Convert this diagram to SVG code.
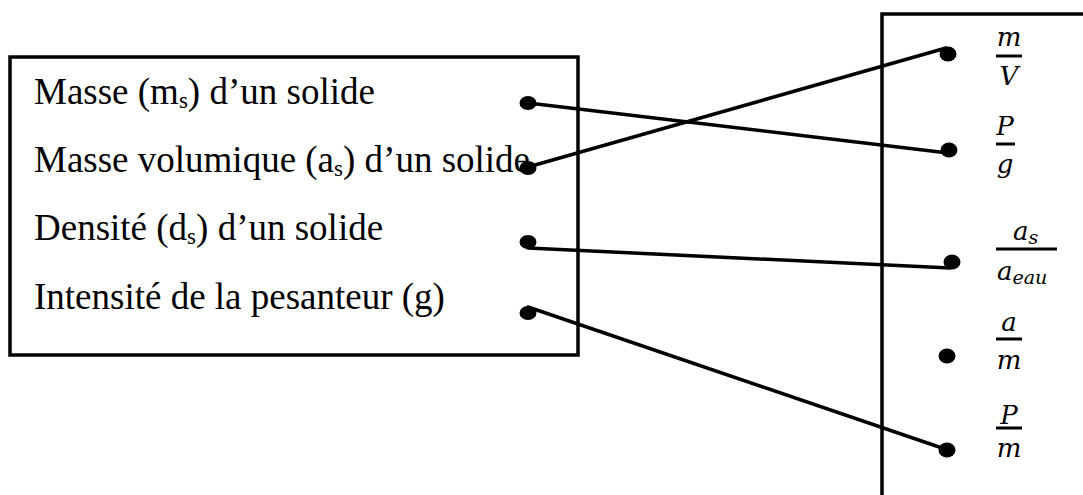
<svg xmlns="http://www.w3.org/2000/svg" width="1083" height="495" viewBox="0 0 1083 495">
<style>
.box{fill:none;stroke:#000;stroke-width:3.5}
.lbl{font-family:"Liberation Serif","Times New Roman",serif;font-size:37px;fill:#000}
.sub{font-size:23px}
.math{font-family:"DejaVu Serif",serif;font-style:italic;font-size:26px;fill:#000}
.msub{font-size:19px}
.bar{stroke:#000;stroke-width:3}
.conn{stroke:#000;stroke-width:3.5;fill:none;stroke-linecap:round}
.dot{fill:#000}
</style>
<rect width="1083" height="495" fill="#fff"/>
<g id="left-box">
<rect class="box" x="10" y="57" width="568" height="298"/>
<text class="lbl" x="34" y="104">Masse (m<tspan class="sub" dy="4">s</tspan><tspan dy="-4">) d’un solide</tspan></text>
<text class="lbl" x="34" y="172">Masse volumique (a<tspan class="sub" dy="4">s</tspan><tspan dy="-4">) d’un solide</tspan></text>
<text class="lbl" x="34" y="240">Densité (d<tspan class="sub" dy="4">s</tspan><tspan dy="-4">) d’un solide</tspan></text>
<text class="lbl" x="34" y="309">Intensité de la pesanteur (g)</text>
</g>
<g id="right-box">
<path class="box" d="M882 495 V14 H1090"/>
</g>
<g id="frac-m-V">
<text class="math" x="1009" y="46" text-anchor="middle">m</text>
<line class="bar" x1="996" y1="56" x2="1022" y2="56"/>
<text class="math" x="1009" y="85" text-anchor="middle">V</text>
</g>
<g id="frac-P-g">
<text class="math" x="1005" y="135" text-anchor="middle">P</text>
<line class="bar" x1="996" y1="144" x2="1015" y2="144"/>
<text class="math" x="1005" y="173" text-anchor="middle">g</text>
</g>
<g id="frac-as-aeau">
<text class="math" x="1013" y="240">a<tspan class="msub" dy="4">s</tspan></text>
<line class="bar" x1="996" y1="249" x2="1057" y2="249"/>
<text class="math" x="997" y="280">a<tspan class="msub" dy="4">eau</tspan></text>
</g>
<g id="frac-a-m">
<text class="math" x="1009" y="331" text-anchor="middle">a</text>
<line class="bar" x1="996" y1="339" x2="1022" y2="339"/>
<text class="math" x="1009" y="369" text-anchor="middle">m</text>
</g>
<g id="frac-P-m">
<text class="math" x="1009" y="424" text-anchor="middle">P</text>
<line class="bar" x1="996" y1="428" x2="1022" y2="428"/>
<text class="math" x="1009" y="457" text-anchor="middle">m</text>
</g>
<g id="dots">
<ellipse class="dot" cx="528" cy="103" rx="8.5" ry="7"/>
<ellipse class="dot" cx="528" cy="168" rx="8.5" ry="7"/>
<ellipse class="dot" cx="528" cy="242" rx="8.5" ry="7"/>
<ellipse class="dot" cx="528" cy="313" rx="8.5" ry="7"/>
<ellipse class="dot" cx="948" cy="54" rx="8.5" ry="7.5"/>
<ellipse class="dot" cx="949" cy="150" rx="8.5" ry="7.5"/>
<ellipse class="dot" cx="952" cy="262" rx="8.5" ry="7.5"/>
<ellipse class="dot" cx="947" cy="356" rx="8.5" ry="7.5"/>
<ellipse class="dot" cx="947" cy="450" rx="8.5" ry="7.5"/>
</g>
<g id="connectors">
<line class="conn" x1="528" y1="103" x2="948" y2="153"/>
<line class="conn" x1="528" y1="167" x2="946" y2="48"/>
<line class="conn" x1="528" y1="248" x2="950" y2="268"/>
<line class="conn" x1="528" y1="307" x2="945" y2="449"/>
</g>
</svg>
